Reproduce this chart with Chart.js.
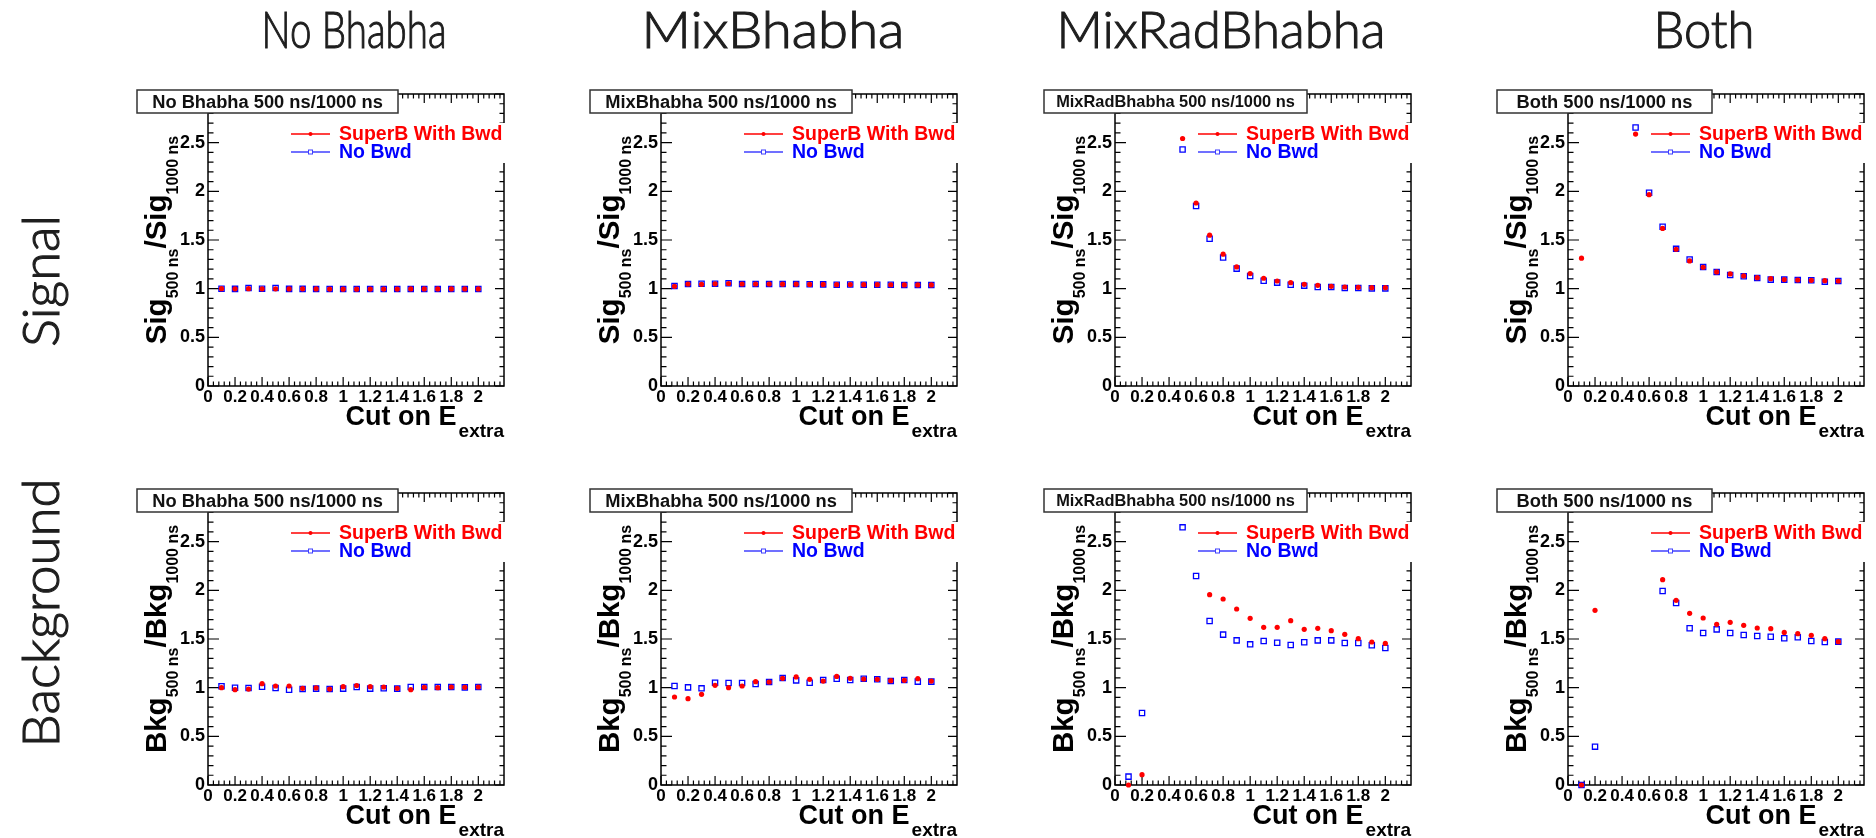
<!DOCTYPE html>
<html><head><meta charset="utf-8">
<script src="https://cdn.jsdelivr.net/npm/chart.js@4.4.0/dist/chart.umd.min.js"></script>
<style>
html,body{margin:0;padding:0;background:#fff;width:1876px;height:838px;overflow:hidden;}
canvas{position:absolute;}
</style></head><body>
<canvas id="bg" width="1876" height="838" style="left:0;top:0"></canvas>
<div id="panels"></div>
<script>
// ---------- data ----------
const cutValues = [0.1,0.2,0.3,0.4,0.5,0.6,0.7,0.8,0.9,1.0,1.1,1.2,1.3,1.4,1.5,1.6,1.7,1.8,1.9,2.0];
const xTickLabels = ['0','0.2','0.4','0.6','0.8','1','1.2','1.4','1.6','1.8','2'];
const yTickLabels = ['0','0.5','1','1.5','2','2.5'];
const columnTitles = ['No Bhabha','MixBhabha','MixRadBhabha','Both'];
const rowTitles = ['Signal','Background'];
const seriesNames = ['SuperB With Bwd','No Bwd'];
const boxTitleSuffix = ' 500 ns/1000 ns';

// Signal ratios
const sigNoBhabhaWithBwd = [1.0,0.998,1.0,0.998,0.998,0.997,0.998,0.997,0.996,0.995,0.995,0.996,0.996,0.996,0.997,0.997,0.997,0.997,0.997,0.997];
const sigNoBhabhaNoBwd   = [1.0,0.998,1.006,1.0,1.007,0.998,0.998,0.997,0.996,0.996,0.996,0.997,0.997,0.997,0.997,0.997,0.997,0.997,0.997,0.997];
const sigMixBhabhaWithBwd = [1.024,1.048,1.045,1.05,1.053,1.048,1.048,1.048,1.046,1.046,1.044,1.044,1.041,1.042,1.041,1.041,1.04,1.038,1.038,1.038];
const sigMixBhabhaNoBwd   = [1.027,1.048,1.05,1.05,1.055,1.048,1.048,1.048,1.047,1.047,1.045,1.044,1.041,1.042,1.041,1.041,1.04,1.038,1.038,1.038];
const sigMixRadWithBwd = [null,null,null,null,2.543,1.88,1.55,1.354,1.223,1.155,1.107,1.079,1.062,1.045,1.034,1.024,1.017,1.014,1.01,1.01];
const sigMixRadNoBwd   = [null,null,null,null,2.43,1.849,1.512,1.32,1.206,1.131,1.082,1.062,1.041,1.031,1.017,1.017,1.007,1.007,1.003,1.003];
const sigBothWithBwd = [1.313,null,null,null,2.588,1.966,1.619,1.405,1.285,1.22,1.172,1.151,1.131,1.113,1.103,1.093,1.089,1.086,1.082,1.079];
const sigBothNoBwd   = [null,null,null,null,2.656,1.986,1.636,1.409,1.299,1.223,1.172,1.141,1.127,1.11,1.093,1.093,1.089,1.086,1.072,1.079];

// Background ratios
const bkgNoBhabhaWithBwd = [1.0,0.979,0.986,1.041,1.017,1.017,0.993,0.997,0.986,1.01,1.021,1.01,1.007,0.993,0.979,1.003,1.0,1.007,1.003,1.007];
const bkgNoBhabhaNoBwd   = [1.014,1.0,0.997,1.01,0.997,0.979,0.986,0.99,0.986,0.99,1.007,0.99,0.993,0.99,1.007,1.007,1.007,1.007,1.003,1.007];
const bkgMixBhabhaWithBwd = [0.904,0.887,0.932,1.024,1.0,1.017,1.062,1.058,1.096,1.11,1.086,1.068,1.116,1.096,1.089,1.086,1.072,1.075,1.092,1.068];
const bkgMixBhabhaNoBwd   = [1.017,1.003,0.993,1.051,1.048,1.048,1.038,1.058,1.1,1.075,1.051,1.079,1.092,1.079,1.092,1.086,1.068,1.079,1.062,1.062];
const bkgMixRadWithBwd = [0.0,0.106,null,null,null,null,1.955,1.911,1.808,1.712,1.62,1.62,1.688,1.599,1.61,1.586,1.548,1.503,1.469,1.455];
const bkgMixRadNoBwd   = [0.086,0.74,null,null,2.647,2.147,1.685,1.545,1.486,1.445,1.479,1.462,1.438,1.466,1.486,1.486,1.459,1.459,1.435,1.408];
const bkgBothWithBwd = [0.0,1.795,null,null,null,null,2.11,1.897,1.764,1.716,1.651,1.671,1.64,1.613,1.606,1.568,1.555,1.538,1.503,1.473];
const bkgBothNoBwd   = [0.0,0.394,null,null,null,null,1.993,1.87,1.61,1.562,1.599,1.562,1.541,1.531,1.524,1.507,1.517,1.479,1.469,1.473];

const signalSeries = [
  [sigNoBhabhaWithBwd, sigNoBhabhaNoBwd],
  [sigMixBhabhaWithBwd, sigMixBhabhaNoBwd],
  [sigMixRadWithBwd, sigMixRadNoBwd],
  [sigBothWithBwd, sigBothNoBwd]
];
const backgroundSeries = [
  [bkgNoBhabhaWithBwd, bkgNoBhabhaNoBwd],
  [bkgMixBhabhaWithBwd, bkgMixBhabhaNoBwd],
  [bkgMixRadWithBwd, bkgMixRadNoBwd],
  [bkgBothWithBwd, bkgBothNoBwd]
];
const yTitleStems = ['Sig','Bkg'];

// ---------- layout / style ----------
const L = {
  axisX: [208, 661, 1115, 1568],
  frameTop: [94, 492.5],
  plotW: 296, plotH: 292,
  padL: 110, padR: 12, padT: 10, padB: 60,
  xMax: 2.19, yMax: 3,
  boxW: [261, 262, 263, 215],
  headerCx: [354, 773, 1221, 1704],
  headerW: [185, 263, 329, 101],
  rowCy: [281, 613],
  rowW: [132, 269]
};
const RED = '#ff0000', BLUE = '#0000ff';
const BF = 'bold %spx "Liberation Sans", Arial, Helvetica, sans-serif';
const font = s => BF.replace('%s', s);

// ---------- headers / row labels ----------
(function drawBg(){
  const c = document.getElementById('bg').getContext('2d');
  c.fillStyle = '#1e1e1e';
  c.strokeStyle = '#1e1e1e';
  c.lineWidth = 1.1;
  const hf = '300 52px Lato, "Open Sans", "DejaVu Sans", sans-serif';
  c.font = hf;
  c.textBaseline = 'alphabetic';
  columnTitles.forEach((t, i) => {
    const w = c.measureText(t).width;
    c.save();
    c.translate(L.headerCx[i], 48);
    c.scale(L.headerW[i] / w, 1);
    c.textAlign = 'center';
    c.fillText(t, 0, 0);
    c.strokeText(t, 0, 0);
    c.restore();
  });
  rowTitles.forEach((t, i) => {
    const w = c.measureText(t).width;
    c.save();
    c.translate(59, L.rowCy[i]);
    c.rotate(-Math.PI / 2);
    c.scale(L.rowW[i] / w, 1);
    c.textAlign = 'center';
    c.fillText(t, 0, 0);
    c.strokeText(t, 0, 0);
    c.restore();
  });
})();

// ---------- ROOT-like decorations plugin ----------
function drawRich(ctx, parts, x, y, align) {
  let total = 0;
  parts.forEach(p => { ctx.font = font(p.size); p.w = ctx.measureText(p.t).width; total += p.w + (p.gap || 0); });
  let cx = align === 'right' ? x - total : (align === 'center' ? x - total / 2 : x);
  parts.forEach(p => {
    ctx.font = font(p.size);
    ctx.textAlign = 'left';
    ctx.fillText(p.t, cx, y + p.dy);
    cx += p.w + (p.gap || 0);
  });
}

const rootPlugin = {
  id: 'rootStyle',
  beforeDatasetsDraw(chart) {
    const ctx = chart.ctx, a = chart.chartArea;
    const xs = chart.scales.x, ys = chart.scales.y;
    ctx.save();
    ctx.strokeStyle = '#000';
    ctx.lineWidth = 1.5;
    ctx.strokeRect(a.left, a.top, a.right - a.left, a.bottom - a.top);
    ctx.lineWidth = 1.2;
    ctx.beginPath();
    for (let k = 0; k * 0.04 <= L.xMax + 1e-9; k++) {
      const v = k * 0.04, px = xs.getPixelForValue(v);
      const major = k % 5 === 0;
      const len = major ? 9 : 4.5;
      ctx.moveTo(px, a.bottom); ctx.lineTo(px, a.bottom - len);
      ctx.moveTo(px, a.top); ctx.lineTo(px, a.top + len);
    }
    for (let k = 0; k * 0.1 <= L.yMax + 1e-9; k++) {
      const v = k * 0.1, py = ys.getPixelForValue(v);
      const major = k % 5 === 0;
      ctx.moveTo(a.left, py); ctx.lineTo(a.left + (major ? 11 : 5.5), py);
      ctx.moveTo(a.right, py); ctx.lineTo(a.right - (major ? 9 : 4.5), py);
    }
    ctx.stroke();
    ctx.fillStyle = '#000';
    ctx.font = font(17);
    ctx.textBaseline = 'middle';
    ctx.textAlign = 'center';
    xTickLabels.forEach(t => ctx.fillText(t, xs.getPixelForValue(parseFloat(t)), a.bottom + 11));
    ctx.font = font(18);
    ctx.textAlign = 'right';
    yTickLabels.forEach(t => ctx.fillText(t, a.left - 3, ys.getPixelForValue(parseFloat(t))));
    ctx.restore();
  },
  afterDatasetsDraw(chart) {
    const ctx = chart.ctx, a = chart.chartArea;
    const o = chart.options.plugins.rootStyle;
    ctx.save();
    ctx.fillStyle = '#000';
    ctx.textBaseline = 'alphabetic';
    drawRich(ctx, [{t:'Cut on E', size:27, dy:0, gap:2}, {t:'extra', size:19, dy:12}], a.right, a.bottom + 39, 'right');
    ctx.save();
    ctx.translate(a.left - 42, (a.top + a.bottom) / 2);
    ctx.rotate(-Math.PI / 2);
    drawRich(ctx, [
      {t:o.stem, size:29.5, dy:0}, {t:'500 ns', size:16, dy:11.5},
      {t:'/' + o.stem, size:29.5, dy:0}, {t:'1000 ns', size:16, dy:11.5}
    ], 0, 0, 'center');
    ctx.restore();
    const lx = a.left;
    ctx.fillStyle = '#fff';
    ctx.fillRect(lx + 76, a.top + 29, 236, 40);
    const rows = [
      {name: seriesNames[0], col: RED, line: RED, y: a.top + 40, mk: 'dot'},
      {name: seriesNames[1], col: BLUE, line: '#4040ff', y: a.top + 58, mk: 'sq'}
    ];
    rows.forEach(r => {
      ctx.strokeStyle = r.line; ctx.lineWidth = 1.3;
      ctx.beginPath(); ctx.moveTo(lx + 83, r.y); ctx.lineTo(lx + 122, r.y); ctx.stroke();
      if (r.mk === 'dot') {
        ctx.fillStyle = r.line; ctx.beginPath(); ctx.arc(lx + 102.5, r.y, 2, 0, Math.PI * 2); ctx.fill();
      } else {
        ctx.fillStyle = '#fff'; ctx.fillRect(lx + 100.5, r.y - 2, 4, 4);
        ctx.strokeStyle = r.line; ctx.lineWidth = 1; ctx.strokeRect(lx + 100.5, r.y - 2, 4, 4);
      }
      ctx.fillStyle = r.col;
      ctx.font = font(19.5);
      ctx.textAlign = 'left';
      ctx.textBaseline = 'middle';
      ctx.fillText(r.name, lx + 131, r.y + 1);
    });
    const bx = a.left - 71, by = a.top - 4, bw = o.boxW, bh = 23;
    ctx.fillStyle = '#fff';
    ctx.fillRect(bx, by, bw, bh);
    ctx.strokeStyle = '#333'; ctx.lineWidth = 1.5;
    ctx.strokeRect(bx, by, bw, bh);
    const txt = o.boxTitle;
    let fs = 18.3;
    ctx.font = font(fs);
    while (ctx.measureText(txt).width > bw - 24 && fs > 8) { fs -= 0.1; ctx.font = font(fs); }
    ctx.fillStyle = '#111';
    ctx.textAlign = 'center';
    ctx.textBaseline = 'middle';
    ctx.fillText(txt, bx + bw / 2, by + bh / 2 + 1);
    ctx.restore();
  }
};

// ---------- build panels ----------
function toPoints(vals) {
  const pts = [];
  vals.forEach((v, i) => { if (v !== null) pts.push({x: cutValues[i], y: v}); });
  return pts;
}
const holder = document.getElementById('panels');
[signalSeries, backgroundSeries].forEach((rowSeries, r) => {
  rowSeries.forEach((pair, c) => {
    const cv = document.createElement('canvas');
    const W = L.padL + L.plotW + L.padR, H = L.padT + L.plotH + L.padB;
    cv.width = W; cv.height = H;
    cv.style.left = (L.axisX[c] - L.padL) + 'px';
    cv.style.top = (L.frameTop[r] - L.padT) + 'px';
    cv.style.width = W + 'px'; cv.style.height = H + 'px';
    holder.appendChild(cv);
    new Chart(cv, {
      type: 'scatter',
      data: {
        datasets: [
          {label: seriesNames[0], data: toPoints(pair[0]), pointStyle: 'circle', pointRadius: 2.6,
           backgroundColor: RED, borderColor: RED, borderWidth: 0, showLine: false, clip: false},
          {label: seriesNames[1], data: toPoints(pair[1]), pointStyle: 'rect', pointRadius: 3.7,
           backgroundColor: 'rgba(0,0,0,0)', borderColor: BLUE, borderWidth: 1.3, showLine: false, clip: false}
        ]
      },
      options: {
        animation: false, responsive: false, maintainAspectRatio: false, devicePixelRatio: 1,
        events: [],
        layout: {padding: {left: L.padL, right: L.padR, top: L.padT, bottom: L.padB}},
        scales: {
          x: {type: 'linear', min: 0, max: L.xMax, display: false},
          y: {type: 'linear', min: 0, max: L.yMax, display: false}
        },
        plugins: {
          legend: {display: false}, tooltip: {enabled: false},
          rootStyle: {stem: yTitleStems[r], boxW: L.boxW[c], boxTitle: columnTitles[c] + boxTitleSuffix}
        }
      },
      plugins: [rootPlugin]
    });
  });
});
</script>
</body></html>
